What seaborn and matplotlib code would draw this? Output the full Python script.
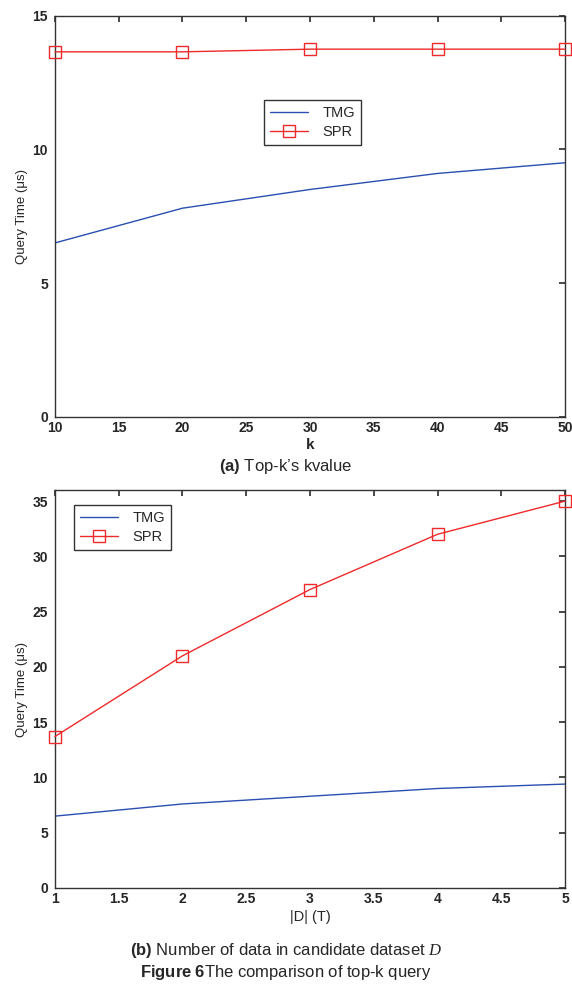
import pandas as pd
import matplotlib.pyplot as plt
import seaborn as sns

# Panel (a): query time vs k
k_values = [10, 20, 30, 40, 50]
tmg_k = [6.5, 7.8, 8.5, 9.1, 9.5]
spr_k = [13.65, 13.65, 13.75, 13.75, 13.75]

# Panel (b): query time vs |D|
d_values = [1, 2, 3, 4, 5]
tmg_d = [6.5, 7.6, 8.3, 9.0, 9.4]
spr_d = [13.7, 21.0, 27.0, 32.0, 35.0]

sns.set_theme(style="white")
plt.rcParams['font.family'] = ['Liberation Sans', 'DejaVu Sans']
plt.rcParams['mathtext.fontset'] = 'custom'
plt.rcParams['mathtext.rm'] = 'Liberation Sans'
plt.rcParams['mathtext.bf'] = 'Liberation Sans:bold'
plt.rcParams['mathtext.it'] = 'Liberation Serif:italic'

fig = plt.figure(figsize=(5.72, 9.85), dpi=100)
ax1 = fig.add_axes([0.096, 0.577, 0.892, 0.407])
ax2 = fig.add_axes([0.096, 0.0985, 0.892, 0.404])

blue = "#2a4fb0"
red = "#ee2a2a"


def draw(ax, x, tmg, spr):
    df = pd.DataFrame({"x": x + x,
                       "y": tmg + spr,
                       "method": ["TMG"] * len(x) + ["SPR"] * len(x)})
    sns.lineplot(data=df[df.method == "TMG"], x="x", y="y", color=blue,
                 lw=1, ax=ax, label="TMG")
    sns.lineplot(data=df[df.method == "SPR"], x="x", y="y", color=red,
                 lw=1, marker="s", markersize=8, markerfacecolor="none",
                 markeredgecolor=red, markeredgewidth=1, ax=ax, label="SPR",
                 clip_on=False, zorder=5)
    for s in ax.spines.values():
        s.set_color("#333333")
        s.set_linewidth(1)
    ax.tick_params(direction="in", length=4, top=True, right=True,
                   labelsize=10, color="#333333")
    ax.tick_params(axis="x", pad=3)
    ax.tick_params(axis="y", pad=5)
    ax.set_ylabel("Query Time (\u03bcs)", fontsize=9.5, labelpad=3)


def legend(ax, anchor):
    leg = ax.legend(loc="upper left", bbox_to_anchor=anchor, fontsize=10.5,
                    frameon=True, fancybox=False, edgecolor="black",
                    handlelength=2.6, borderpad=0.4, labelspacing=0.35,
                    handletextpad=1.0, borderaxespad=0)
    leg.get_frame().set_linewidth(1)


draw(ax1, k_values, tmg_k, spr_k)
ax1.set_xlim(10, 50)
ax1.set_ylim(0, 15)
ax1.set_xticks(range(10, 51, 5))
ax1.set_yticks([0, 5, 10, 15])
for t in ax1.get_xticklabels() + ax1.get_yticklabels():
    t.set_fontweight("bold")
ax1.set_xlabel("k", fontsize=11, fontweight="bold", labelpad=2)
legend(ax1, (0.41, 0.79))

draw(ax2, d_values, tmg_d, spr_d)
ax2.set_xlim(1, 5)
ax2.set_ylim(0, 36)
ax2.set_xticks([1, 1.5, 2, 2.5, 3, 3.5, 4, 4.5, 5])
ax2.set_xticklabels(["1", "1.5", "2", "2.5", "3", "3.5", "4", "4.5", "5"])
ax2.set_yticks(range(0, 36, 5))
for t in ax2.get_xticklabels() + ax2.get_yticklabels():
    t.set_fontweight("bold")
ax2.set_xlabel("|D| (T)", fontsize=10.5, labelpad=3)
legend(ax2, (0.038, 0.962))

fig.text(0.5, 1 - 466 / 985, "$\\mathbf{(a)}$ Top-k\u2019s kvalue",
         ha="center", va="center", fontsize=12)
fig.text(0.5, 1 - 951 / 985,
         "$\\mathbf{(b)}$ Number of data in candidate dataset $D$",
         ha="center", va="center", fontsize=12)
fig.text(0.5, 1 - 972 / 985, "$\\mathbf{Figure\\ 6}$The comparison of top-k query",
         ha="center", va="center", fontsize=12)

fig.savefig("out.png", dpi=100)
